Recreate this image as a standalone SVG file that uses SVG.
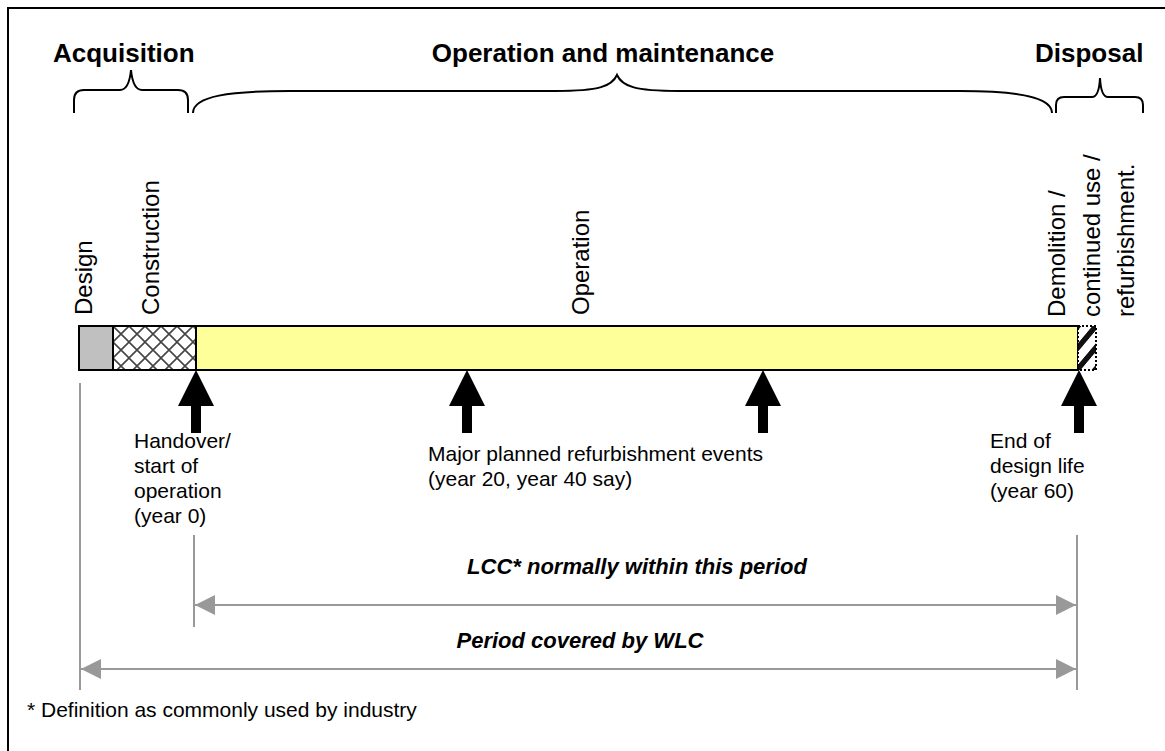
<svg xmlns="http://www.w3.org/2000/svg" width="1165" height="751" viewBox="0 0 1165 751">
<style>
text{font-family:"Liberation Sans",Arial,sans-serif;fill:#000}
.title{font-size:26px;font-weight:bold}
.lbl{font-size:21px}
.vlbl{font-size:24px}
.ital{font-size:22px;font-weight:bold;font-style:italic}
.brace{fill:none;stroke:#000;stroke-width:2}
.gline{stroke:#999;stroke-width:2;fill:none}
.barc{stroke:#000;stroke-width:2}
.uparrow{fill:#000}
</style>
<defs>
<pattern id="cross" patternUnits="userSpaceOnUse" width="16" height="16" x="113" y="326">
<rect width="16" height="16" fill="#fff"/>
<path d="M0,0 L16,16 M16,0 L0,16" stroke="#444" stroke-width="1.6"/>
</pattern>
<pattern id="diag" patternUnits="userSpaceOnUse" width="18" height="22" x="1078" y="326" patternTransform="skewX(-40)">
<rect width="18" height="22" fill="#fff"/>
<rect x="0" y="0" width="7" height="22" fill="#111"/>
</pattern>
<marker id="gh" viewBox="0 0 20 20" refX="20" refY="10" markerWidth="20" markerHeight="20" markerUnits="userSpaceOnUse" orient="auto-start-reverse">
<path d="M0,0 L20,10 L0,20 Z" fill="#999"/>
</marker>
</defs>
<rect x="8" y="8" width="1200" height="800" fill="#fff" stroke="#000" stroke-width="2"/>

<g id="titles">
<text class="title" x="53" y="62">Acquisition</text>
<text class="title" x="603" y="62" text-anchor="middle">Operation and maintenance</text>
<text class="title" x="1035" y="62">Disposal</text>
</g>

<g id="braces">
<path class="brace" d="M74,113 L74,100 Q74,90 84,90 L120,90 Q129,90 131,70 Q133,90 142,90 L178,90 Q188,90 188,100 L188,113"/>
<path class="brace" d="M193,113 C193,96 230,91 290,91 L555,91 C600,91 612,86 617,75 C622,86 634,91 679,91 L960,91 C1022,91 1052,98 1052,113"/>
<path class="brace" d="M1056,113 L1056,105 Q1056,97 1064,97 L1092,97 Q1099,97 1100,78 Q1101,97 1108,97 L1135,97 Q1143,97 1143,105 L1143,113"/>
</g>

<g id="phase-labels">
<text class="vlbl" transform="translate(92,315) rotate(-90)">Design</text>
<text class="vlbl" transform="translate(159,315) rotate(-90)">Construction</text>
<text class="vlbl" transform="translate(589,315) rotate(-90)">Operation</text>
<text class="vlbl" transform="translate(1065,317) rotate(-90)">Demolition /</text>
<text class="vlbl" transform="translate(1100,317) rotate(-90)">continued use /</text>
<text class="vlbl" transform="translate(1134,317) rotate(-90)">refurbishment.</text>
</g>

<g id="bar">
<rect id="design" class="barc" x="79" y="326" width="34" height="44" fill="#c0c0c0"/>
<rect id="construction" class="barc" x="113" y="326" width="83" height="44" fill="url(#cross)"/>
<rect id="operation" class="barc" x="196" y="326" width="882" height="44" fill="#ffff99"/>
<rect id="disposal" x="1078" y="326" width="18" height="44" fill="url(#diag)" stroke="#000" stroke-width="2" stroke-dasharray="2,2"/>
</g>

<g id="event-arrows">
<path class="uparrow" d="M196,370 L214,406 L201,406 L201,433 L191,433 L191,406 L178,406 Z"/>
<path class="uparrow" d="M467,370 L485,406 L472,406 L472,433 L462,433 L462,406 L449,406 Z"/>
<path class="uparrow" d="M763,370 L781,406 L768,406 L768,433 L758,433 L758,406 L745,406 Z"/>
<path class="uparrow" d="M1079,370 L1097,406 L1084,406 L1084,433 L1074,433 L1074,406 L1061,406 Z"/>
</g>

<g id="event-labels">
<text class="lbl" x="134" y="448">Handover/</text>
<text class="lbl" x="134" y="473">start of</text>
<text class="lbl" x="134" y="498">operation</text>
<text class="lbl" x="134" y="523">(year 0)</text>
<text class="lbl" x="428" y="461">Major planned refurbishment events</text>
<text class="lbl" x="428" y="486">(year 20, year 40 say)</text>
<text class="lbl" x="990" y="448">End of</text>
<text class="lbl" x="990" y="473">design life</text>
<text class="lbl" x="990" y="498">(year 60)</text>
</g>

<g id="connectors">
<line class="gline" x1="80" y1="383" x2="80" y2="690"/>
<line class="gline" x1="194" y1="535" x2="194" y2="627"/>
<line class="gline" x1="1077" y1="535" x2="1077" y2="690"/>
<line class="gline" x1="195" y1="605" x2="1076" y2="605" marker-start="url(#gh)" marker-end="url(#gh)"/>
<line class="gline" x1="81" y1="669" x2="1076" y2="669" marker-start="url(#gh)" marker-end="url(#gh)"/>
</g>

<g id="period-labels">
<text class="ital" x="637" y="574" text-anchor="middle">LCC* normally within this period</text>
<text class="ital" x="580" y="648" text-anchor="middle">Period covered by WLC</text>
</g>

<g id="footnote">
<text class="lbl" x="27" y="717">* Definition as commonly used by industry</text>
</g>
</svg>
